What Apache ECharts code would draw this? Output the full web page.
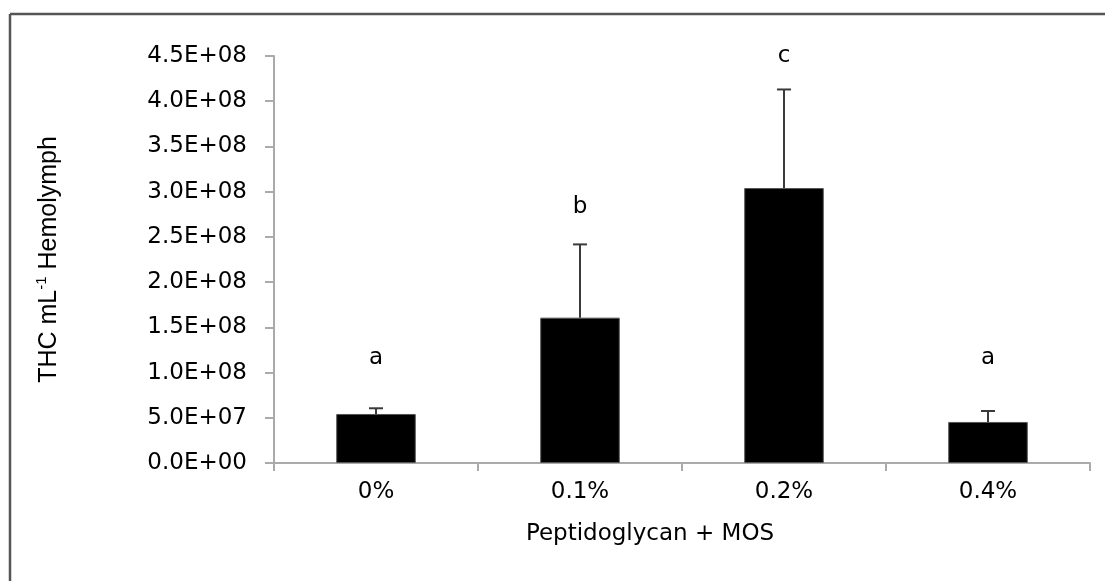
<!DOCTYPE html>
<html>
<head>
<meta charset="utf-8">
<script src="https://cdn.jsdelivr.net/npm/echarts@6/dist/echarts.min.js"></script>
<style>
html,body{margin:0;padding:0;background:#fff;overflow:hidden;}
#chart{width:1105px;height:581px;}
</style>
</head>
<body>
<div id="chart"></div>
<script>
const categories = ['0%', '0.1%', '0.2%', '0.4%'];
const thcMeans = [5.42e7, 1.607e8, 3.04e8, 4.54e7];
const thcUpperError = [0.63e7, 0.81e8, 1.09e8, 1.21e7];
const groupLetters = ['a', 'b', 'c', 'a'];
const letterLevels = [1.16e8, 2.83e8, 4.5e8, 1.16e8];
const yTickLabels = ['0.0E+00', '5.0E+07', '1.0E+08', '1.5E+08', '2.0E+08', '2.5E+08', '3.0E+08', '3.5E+08', '4.0E+08', '4.5E+08'];
const yStep = 5e7;

const chart = echarts.init(document.getElementById('chart'), null, {renderer: 'canvas'});
const font = 'DejaVu Sans, Verdana, sans-serif';
const axisGray = '#aaaaaa';

const option = {
  backgroundColor: '#ffffff',
  animation: false,
  graphic: [{
    type: 'line',
    shape: {x1: 10, y1: 14, x2: 10, y2: 600},
    style: {stroke: '#555555', lineWidth: 2.5},
    z: -10
  }, {
    type: 'line',
    shape: {x1: 10, y1: 14, x2: 1105, y2: 14},
    style: {stroke: '#555555', lineWidth: 2.5},
    z: -10
  }],
  grid: {left: 274, right: 15, top: 56, bottom: 118, containLabel: false},
  xAxis: {
    type: 'category',
    data: categories,
    boundaryGap: true,
    axisLine: {lineStyle: {color: axisGray, width: 2}},
    axisTick: {show: true, length: 8, lineStyle: {color: axisGray, width: 2}},
    axisLabel: {color: '#000', fontFamily: font, fontSize: 23, margin: 18},
    name: 'Peptidoglycan + MOS',
    nameLocation: 'middle',
    nameGap: 60,
    nameTextStyle: {color: '#000', fontFamily: font, fontSize: 23, padding: [0, 64, 0, 0]}
  },
  yAxis: {
    type: 'value',
    min: 0,
    max: 4.5e8,
    interval: yStep,
    splitLine: {show: false},
    axisLine: {show: true, lineStyle: {color: axisGray, width: 2}},
    axisTick: {show: true, length: 9, lineStyle: {color: axisGray, width: 2}},
    axisLabel: {
      color: '#000', fontFamily: font, fontSize: 23, margin: 27,
      formatter: function (v) { return yTickLabels[Math.round(v / yStep)] || ''; }
    },
    name: '{a|THC mL}{s|-1}{a| Hemolymph}',
    nameLocation: 'middle',
    nameRotate: 90,
    nameGap: 210,
    nameTextStyle: {
      color: '#000',
      rich: {
        a: {fontFamily: 'Liberation Sans, Arial, sans-serif', fontSize: 25, color: '#000', lineHeight: 30},
        s: {fontFamily: 'Liberation Sans, Arial, sans-serif', fontSize: 15, color: '#000', verticalAlign: 'top', lineHeight: 30, padding: [0, 0, 10, 0]}
      }
    }
  },
  series: [
    {
      type: 'bar',
      data: thcMeans,
      barWidth: '39%',
      itemStyle: {color: '#000000', borderColor: '#555555', borderWidth: 1},
      z: 2
    },
    {
      type: 'custom',
      data: categories.map(function (c, i) { return [i, thcMeans[i], thcUpperError[i]]; }),
      renderItem: function (params, api) {
        const i = api.value(0);
        const m = api.value(1);
        const e = api.value(2);
        const p0 = api.coord([i, m]);
        const p1 = api.coord([i, m + e]);
        const cap = 7;
        const st = {stroke: '#3a3a3a', lineWidth: 2};
        return {
          type: 'group',
          children: [
            {type: 'line', shape: {x1: p0[0], y1: p0[1], x2: p1[0], y2: p1[1]}, style: st},
            {type: 'line', shape: {x1: p1[0] - cap, y1: p1[1], x2: p1[0] + cap, y2: p1[1]}, style: st}
          ]
        };
      },
      z: 3
    },
    {
      type: 'custom',
      data: categories.map(function (c, i) { return [i, letterLevels[i]]; }),
      renderItem: function (params, api) {
        const idx = params.dataIndex;
        const p = api.coord([api.value(0), api.value(1)]);
        return {
          type: 'text',
          style: {
            x: p[0], y: p[1], text: groupLetters[idx],
            fontFamily: font, fontSize: 23, fill: '#000',
            align: 'center', verticalAlign: 'middle'
          }
        };
      },
      z: 4
    }
  ]
};
chart.setOption(option);
</script>
</body>
</html>
